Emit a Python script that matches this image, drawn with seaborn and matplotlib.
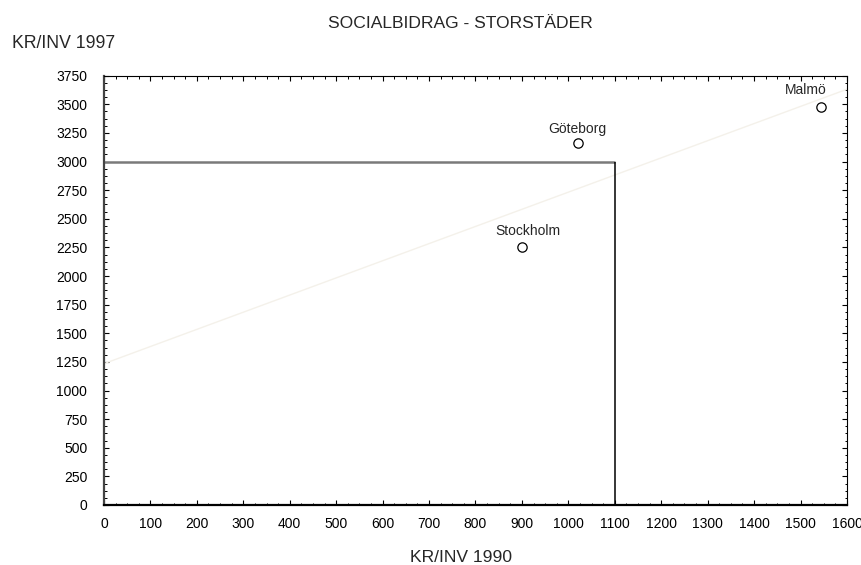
import numpy as np
import pandas as pd
import matplotlib
matplotlib.use("Agg")
import matplotlib.pyplot as plt
from matplotlib.ticker import MultipleLocator, AutoMinorLocator
import seaborn as sns

# data
cities = ["Stockholm", "Göteborg", "Malmö"]
kr_inv_1990 = [900, 1020, 1545]
kr_inv_1997 = [2258, 3162, 3475]

# reference box
x_limit_ref = 1100
y_limit_ref = 3000

df = pd.DataFrame({"city": cities, "x": kr_inv_1990, "y": kr_inv_1997})

sns.set_style("ticks")
plt.rcParams["font.family"] = ["Liberation Sans", "DejaVu Sans"]

fig = plt.figure(figsize=(8.61, 5.65), dpi=100)
ax = fig.add_axes([0.1208, 0.1062, 0.8629, 0.7598])

ax.set_xlim(0, 1600)
ax.set_ylim(0, 3750)

# faint regression line
sns.regplot(data=df, x="x", y="y", ax=ax, scatter=False, ci=None, truncate=False,
            line_kws=dict(color="#f4f1ea", lw=1, zorder=1))

# reference box
ax.hlines(y_limit_ref, 0, x_limit_ref, color="#7a7a7a", lw=1.8, zorder=2)
ax.vlines(x_limit_ref, 0, y_limit_ref, color="black", lw=1.1, zorder=2)

sns.scatterplot(data=df, x="x", y="y", ax=ax, marker="o", s=45,
                facecolor="white", edgecolor="black", linewidth=0.9, zorder=3)

label_offsets = {"Stockholm": (4, 6, "center"), "Göteborg": (0, 5, "center"),
                 "Malmö": (4, 7, "right")}
for c, xv, yv in zip(cities, kr_inv_1990, kr_inv_1997):
    dx, dy, ha = label_offsets[c]
    ax.annotate(c, (xv, yv), xytext=(dx, dy), textcoords="offset points",
                ha=ha, va="bottom", fontsize=10)

ax.xaxis.set_major_locator(MultipleLocator(100))
ax.yaxis.set_major_locator(MultipleLocator(250))
ax.xaxis.set_minor_locator(AutoMinorLocator(4))
ax.yaxis.set_minor_locator(AutoMinorLocator(4))
ax.tick_params(which="both", direction="in", top=True, right=True, colors="black",
               labelsize=10)
ax.tick_params(which="major", length=3.5, width=0.8)
ax.tick_params(which="minor", length=1.8, width=0.7)
ax.tick_params(axis="y", pad=12)
ax.tick_params(axis="x", pad=9)

for side in ["top", "right"]:
    ax.spines[side].set_visible(True)
    ax.spines[side].set_linewidth(0.8)
    ax.spines[side].set_color("black")
ax.spines["left"].set_linewidth(1.6)
ax.spines["left"].set_color("#444444")
ax.spines["bottom"].set_linewidth(1.6)
ax.spines["bottom"].set_color("black")

ax.set_xlabel("")
ax.set_ylabel("")

fig.text(460 / 861, 1 - 23 / 565, "SOCIALBIDRAG - STORSTÄDER", ha="center", va="center",
         fontsize=12.6)
fig.text(12 / 861, 1 - 44 / 565, "KR/INV 1997", ha="left", va="center", fontsize=12.7)
fig.text(461 / 861, 1 - 557 / 565, "KR/INV 1990", ha="center", va="center", fontsize=12.6)

fig.savefig("out.png", dpi=100)
